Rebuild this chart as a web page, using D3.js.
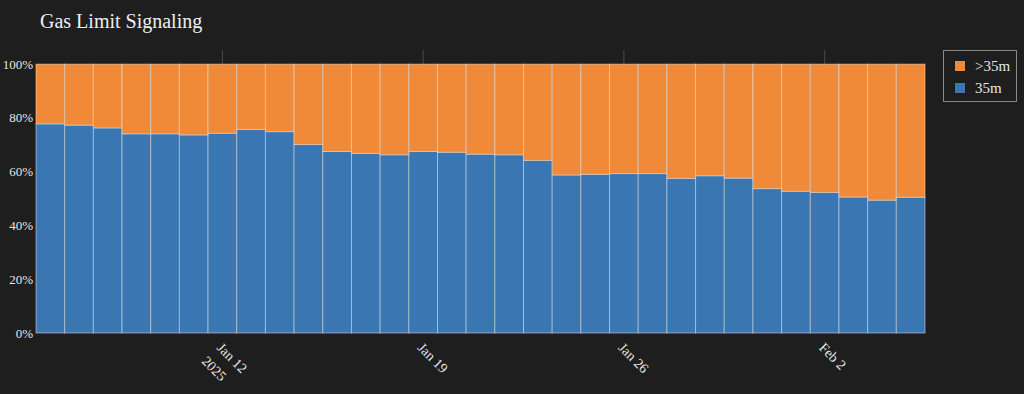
<!DOCTYPE html>
<html><head><meta charset="utf-8">
<script src="https://cdn.jsdelivr.net/npm/d3@7"></script>
<style>
html,body{margin:0;padding:0;background:#1e1e1e;}
svg{display:block;}
text{font-family:"Liberation Serif","Times New Roman",serif;}
</style></head>
<body>
<svg id="chart" width="1024" height="394"></svg>
<script>
const dates = ["2025-01-06","2025-01-07","2025-01-08","2025-01-09","2025-01-10","2025-01-11","2025-01-12","2025-01-13","2025-01-14","2025-01-15","2025-01-16","2025-01-17","2025-01-18","2025-01-19","2025-01-20","2025-01-21","2025-01-22","2025-01-23","2025-01-24","2025-01-25","2025-01-26","2025-01-27","2025-01-28","2025-01-29","2025-01-30","2025-01-31","2025-02-01","2025-02-02","2025-02-03","2025-02-04","2025-02-05"];
const share35m = [77.8,77.3,76.3,74.1,74.1,73.7,74.3,75.7,74.9,70.1,67.5,66.8,66.3,67.5,67.2,66.5,66.3,64.2,58.8,59.0,59.3,59.3,57.5,58.5,57.6,53.7,52.7,52.3,50.6,49.4,50.5];
const shareAbove35m = [22.2,22.7,23.7,25.9,25.9,26.3,25.7,24.3,25.1,29.9,32.5,33.2,33.7,32.5,32.8,33.5,33.7,35.8,41.2,41.0,40.7,40.7,42.5,41.5,42.4,46.3,47.3,47.7,49.4,50.6,49.5];
const seriesNames = ["35m", ">35m"];
const seriesColors = ["#3a76b2", "#f08a38"];
const xTickDates = ["2025-01-12","2025-01-19","2025-01-26","2025-02-02"];
const xTickLabels = [["Jan 12","2025"],["Jan 19"],["Jan 26"],["Feb 2"]];
const yTicks = [0,20,40,60,80,100];
const title = "Gas Limit Signaling";

const W = 1024, H = 394;
const m = {left:36, right:99, top:50, bottom:61};
const svg = d3.select("#chart");
const parse = d3.utcParse("%Y-%m-%d");
const days = dates.map(parse);
const half = 12*3600*1000;

const x = d3.scaleUtc()
  .domain([new Date(+days[0]-half), new Date(+days[days.length-1]+half)])
  .range([m.left, W-m.right]);
const y = d3.scaleLinear().domain([0, 100/0.95]).range([H-m.bottom, m.top]);

// vertical gridlines (visible only above the bars)
const g = svg.append("g");
g.selectAll("line.vg").data(xTickDates.map(parse)).join("line")
  .attr("x1", d=>x(d)).attr("x2", d=>x(d))
  .attr("y1", m.top).attr("y2", H-m.bottom)
  .attr("stroke", "#4a4a4a").attr("stroke-width", 1);

const rows = days.map((d,i)=>({d, v:[share35m[i], shareAbove35m[i]]}));
const stack = d3.stack().keys([0,1]).value((r,k)=>r.v[k]);
const layers = stack(rows);

layers.forEach((layer, li)=>{
  svg.append("g").selectAll("rect").data(layer).join("rect")
    .attr("x", d=>x(new Date(+d.data.d-half)))
    .attr("width", d=>x(new Date(+d.data.d+half)) - x(new Date(+d.data.d-half)))
    .attr("y", d=>y(d[1]))
    .attr("height", d=>y(d[0]) - y(d[1]))
    .attr("fill", seriesColors[li])
    .attr("stroke", "rgba(240,240,240,0.5)")
    .attr("stroke-width", 1);
});

// y axis labels
svg.append("g").selectAll("text").data(yTicks).join("text")
  .attr("x", m.left-3).attr("y", d=>y(d)).attr("dy","0.35em")
  .attr("text-anchor","end").attr("fill","#e6e6e6").attr("font-size",13)
  .text(d=>d+"%");

// x axis labels
const xl = svg.append("g").selectAll("g").data(xTickDates.map((d,i)=>({d:parse(d), lines:xTickLabels[i]}))).join("g")
  .attr("transform", d=>`translate(${x(d.d)-3},${H-m.bottom+12}) rotate(45)`);
xl.each(function(d){
  const t = d3.select(this).append("text").attr("fill","#e6e6e6").attr("font-size",14)
    .attr("text-anchor","start");
  d.lines.forEach((ln,i)=>{
    t.append("tspan").attr("x", i===0?0:-1).attr("dy", i===0?"0.35em":"1.45em").text(ln);
  });
});

// title
svg.append("text").attr("x", 40).attr("y", 28).attr("fill","#eeeeee")
  .attr("font-size", 20).text(title);

// legend
const lg = svg.append("g").attr("transform","translate(943,50)");
lg.append("rect").attr("x",0.5).attr("y",0.5).attr("width",73).attr("height",51)
  .attr("fill","#1e1e1e").attr("stroke","#8a8a8a").attr("stroke-width",1);
const legItems = [{name:seriesNames[1], color:seriesColors[1]},{name:seriesNames[0], color:seriesColors[0]}];
legItems.forEach((it,i)=>{
  const yy = 16 + i*22;
  lg.append("rect").attr("x",12).attr("y",yy-5).attr("width",10).attr("height",10).attr("fill",it.color);
  lg.append("text").attr("x",32).attr("y",yy).attr("dy","0.35em").attr("fill","#e6e6e6")
    .attr("font-size",15).text(it.name);
});
</script>
</body></html>
